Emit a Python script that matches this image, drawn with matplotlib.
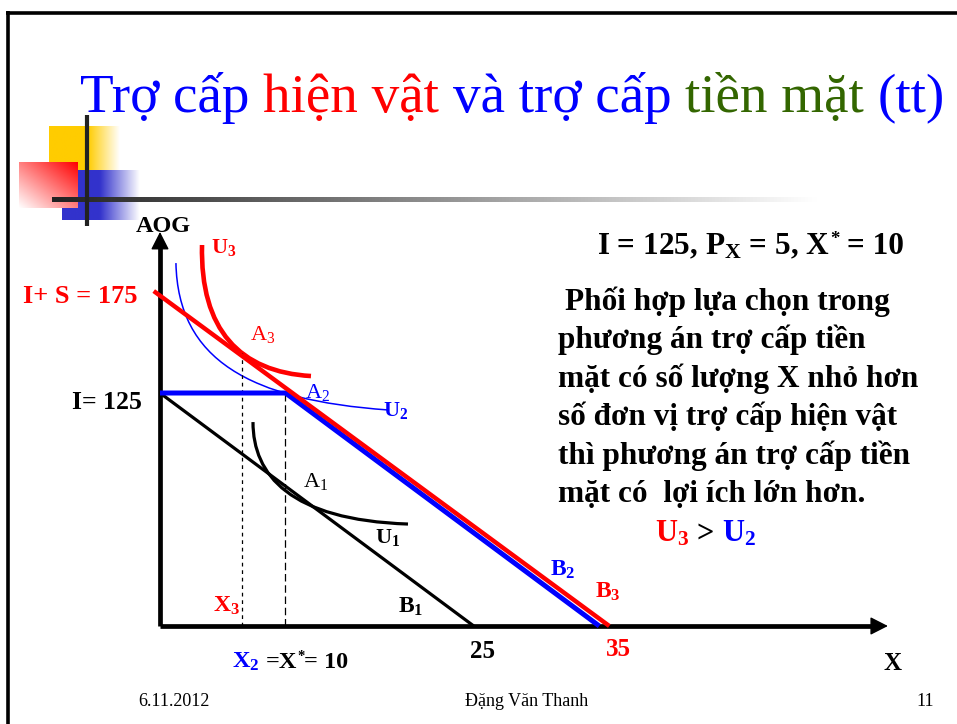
import numpy as np
import matplotlib
matplotlib.use('Agg')
import matplotlib.pyplot as plt
from matplotlib.path import Path
from matplotlib.patches import PathPatch

plt.rcParams['font.family'] = ['Liberation Serif', 'DejaVu Serif']
plt.rcParams['mathtext.fontset'] = 'custom'
plt.rcParams['mathtext.rm'] = 'Liberation Serif'
plt.rcParams['mathtext.it'] = 'Liberation Serif:italic'
plt.rcParams['mathtext.bf'] = 'Liberation Serif:bold'

# **********************************************
# dữ liệu của hình (đơn vị: X và AOG)

# đường ngân sách
b1_x = [0, 25]
b1_y = [125, 0]
b2_x = [0, 10, 35]
b2_y = [125, 125, 0]
b3_x = [-0.5, 35.8]
b3_y = [179.7, 0]

# đường bàng quan (điểm điều khiển Bezier)
u1_x = [7.41, 7.41, 10.36, 19.76]
u1_y = [109.4, 81.0, 56.9, 54.7]
u2_x = [1.27, 1.43, 7.17, 18.17]
u2_y = [194.7, 142.7, 121.2, 115.9]
u3_x = [3.35, 3.19, 6.37, 12.03]
u3_y = [204.4, 158.8, 136.3, 134.1]

# điểm lựa chọn
x3, a3_y = 6.5, 146.5
x2, a2_y = 10, 125

# trục
x_axis_end = 58.0
y_axis_end = 211.4

BLUE = '#0000FF'
RED = '#FF0000'
GREEN = '#336600'

para = ['Phối hợp lựa chọn trong',
        'phương án trợ cấp tiền',
        'mặt có số lượng X nhỏ hơn',
        'số đơn vị trợ cấp hiện vật',
        'thì phương án trợ cấp tiền',
        'mặt có  lợi ích lớn hơn.']

# **********************************************
fig = plt.figure(figsize=(9.57, 7.24), dpi=100)

# nền slide (tọa độ pixel)
bg = fig.add_axes([0, 0, 1, 1], zorder=0)
bg.set_xlim(0, 957)
bg.set_ylim(724, 0)
bg.axis('off')

# khung slide
bg.plot([6, 957], [12.5, 12.5], color='black', lw=2.6, solid_capstyle='butt')
bg.plot([7.5, 7.5], [11, 724], color='black', lw=2.6, solid_capstyle='butt')

def fade_h(x0, x1, solid_to, color, n=200):
    xs = np.linspace(x0, x1, n)
    a = np.clip(1 - (xs - solid_to) / (x1 - solid_to), 0, 1)
    a[xs < solid_to] = 1
    c = np.array(matplotlib.colors.to_rgb(color))
    img = 1 - a[None, :, None] * (1 - c[None, None, :])
    return img

# ô vuông vàng
bg.imshow(fade_h(49, 120, 88, '#FFCC00'), extent=(49, 120, 186, 126),
          aspect='auto', origin='upper', zorder=1, interpolation='bilinear')
# ô xanh
bg.imshow(fade_h(62, 140, 100, '#3333CC'), extent=(62, 140, 220, 170),
          aspect='auto', origin='upper', zorder=2, interpolation='bilinear')
# ô đỏ (chuyển màu chéo)
gx, gy = np.meshgrid(np.linspace(0, 1, 100), np.linspace(0, 1, 100))
t = np.clip((gx + (1 - gy)) / 2, 0, 1)[:, :, None]
red_img = 1 - t * (1 - np.array([1.0, 0.0, 0.0]))
bg.imshow(red_img, extent=(19, 78, 208, 162), aspect='auto', origin='upper',
          zorder=3, interpolation='bilinear')
# đường ngang mờ dần
xs = np.linspace(0, 1, 400)
g = np.clip(0.13 + 1.0 * xs, 0, 1)
line_img = np.repeat(g[None, :, None], 3, axis=2)
bg.imshow(line_img, extent=(52, 930, 202, 197), aspect='auto', origin='upper',
          zorder=4, interpolation='bilinear')
# đường dọc
bg.plot([87, 87], [115, 226], color='#222222', lw=3, solid_capstyle='butt', zorder=5)

# **********************************************
# đồ thị (tọa độ dữ liệu)
ax = fig.add_axes([0, 0, 1, 1], zorder=1)
ax.set_facecolor('none')
ax.set_xlim((0 - 160) / 12.55, (957 - 160) / 12.55)
ax.set_ylim((626 - 724) / 1.864, 626 / 1.864)
ax.axis('off')

ax.plot([0, 0], [0, y_axis_end - 5], color='black', lw=3.4, solid_capstyle='butt')
ax.plot([0, x_axis_end - 1], [0, 0], color='black', lw=3.4, solid_capstyle='butt')
arrow = dict(arrowstyle='-|>,head_length=0.55,head_width=0.28', color='black',
             lw=1, mutation_scale=20, shrinkA=0, shrinkB=0)
ax.annotate('', xy=(0, y_axis_end), xytext=(0, y_axis_end - 20), arrowprops=arrow)
ax.annotate('', xy=(x_axis_end, 0), xytext=(x_axis_end - 3, 0), arrowprops=arrow)

ax.plot([x3, x3], [0, a3_y], color='black', lw=0.9, dashes=(3, 3))
ax.plot([x2, x2], [0, a2_y], color='black', lw=0.9, dashes=(6, 3))

ax.plot(b1_x, b1_y, color='black', lw=2.3, solid_capstyle='butt')
ax.plot(b2_x, b2_y, color=BLUE, lw=3.6, solid_capstyle='butt')
ax.plot(b3_x, b3_y, color=RED, lw=3.2, solid_capstyle='butt')

def curve(xs_, ys_, color, lw):
    verts = list(zip(xs_, ys_))
    codes = [Path.MOVETO, Path.CURVE4, Path.CURVE4, Path.CURVE4]
    ax.add_patch(PathPatch(Path(verts, codes), facecolor='none', edgecolor=color,
                           lw=lw, capstyle='butt'))

curve(u1_x, u1_y, 'black', 2.3)
curve(u2_x, u2_y, BLUE, 1.1)
curve(u3_x, u3_y, RED, 3.3)

# **********************************************
# chữ (tọa độ pixel)
tx = fig.add_axes([0, 0, 1, 1], zorder=2)
tx.set_facecolor('none')
tx.set_xlim(0, 957)
tx.set_ylim(724, 0)
tx.axis('off')

renderer = fig.canvas.get_renderer()

def colored(x, y, parts, size, weight='normal'):
    # parts: (chuỗi, màu, số khoảng trắng sau, tỉ lệ cỡ chữ, dịch lên)
    probe1 = tx.text(0, 0, 'x x', fontsize=size, fontweight=weight)
    probe2 = tx.text(0, 0, 'xx', fontsize=size, fontweight=weight)
    sp = probe1.get_window_extent(renderer).width - probe2.get_window_extent(renderer).width
    probe1.remove()
    probe2.remove()
    for p in parts:
        s, c, gap = p[:3]
        scale = p[3] if len(p) > 3 else 1
        dy = p[4] if len(p) > 4 else 0
        txt = tx.text(x, y - dy, s, color=c, fontsize=size * scale, fontweight=weight,
                      ha='left', va='baseline')
        x += txt.get_window_extent(renderer).width + gap * sp

# tiêu đề
colored(80, 112, [('Trợ cấp', BLUE, 1), ('hiện vật', RED, 1), ('và trợ cấp', BLUE, 1),
                  ('tiền mặt', GREEN, 1), ('(tt)', BLUE, 0)], 39.7)

def lab(x, y, s, color='black', size=18, weight='bold'):
    tx.text(x, y, s, color=color, fontsize=size, fontweight=weight,
            ha='left', va='baseline')

lab(136, 232, 'AOG', size=17.5)
lab(211, 253, r'U$_\mathbf{3}$', RED, 16)
lab(23, 303, 'I+ S = 175', RED, 19)
lab(72, 409, 'I= 125', size=18.5)
lab(250, 340, 'A$_3$', RED, 16, 'normal')
lab(305, 398, 'A$_2$', BLUE, 16, 'normal')
lab(383, 416, r'U$_\mathbf{2}$', BLUE, 16)
lab(303, 487, 'A$_1$', size=16, weight='normal')
lab(375, 543, r'U$_\mathbf{1}$', size=16)
lab(550, 576, r'B$_\mathbf{2}$', BLUE, 17)
lab(595, 598, r'B$_\mathbf{3}$', RED, 17)
lab(398, 613, r'B$_\mathbf{1}$', size=17)
lab(213, 612, r'X$_\mathbf{3}$', RED, 17)
lab(470, 658, '25', size=18)
lab(606, 656, '35', RED, 18)
colored(232, 668, [(r'X$_\mathbf{2}$', BLUE, 1), ('=X', 'black', 0),
                   ('*', 'black', 0, 0.6, 8), ('= 10', 'black', 0)], 17.5, 'bold')
lab(883, 670, 'X', size=18)

colored(597, 254, [(r'I = 125, P$_\mathbf{X}$ = 5, X', 'black', 0),
                   ('*', 'black', 1, 0.6, 10), ('= 10', 'black', 0)], 22.5, 'bold')
for i, line in enumerate(para):
    lab(565 if i == 0 else 558, 310 + i * 38.4, line, size=22.5)
colored(655, 542, [(r'U$_\mathbf{3}$', RED, 1), ('>', 'black', 1), (r'U$_\mathbf{2}$', BLUE, 0)],
        22, 'bold')

# chân trang
tx.text(138, 706, '6.11.2012', fontsize=13, ha='left', va='baseline')
tx.text(527, 706, 'Đặng Văn Thanh', fontsize=13, ha='center', va='baseline')
tx.text(925, 706, '11', fontsize=13, ha='center', va='baseline')

fig.savefig('out.png', dpi=100)
